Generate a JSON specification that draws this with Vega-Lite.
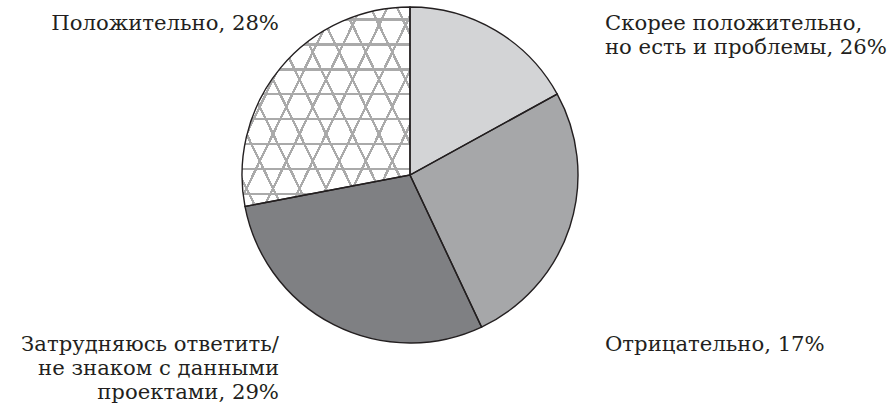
{
  "$schema": "https://vega.github.io/schema/vega-lite/v6.json",
  "width": 820,
  "height": 350,
  "padding": 0,
  "background": "white",
  "config": {"view": {"stroke": null}},
  "datasets": {
    "slices": [
      {"idx": 1, "category": "Отрицательно", "value": 17},
      {"idx": 2, "category": "Скорее положительно, но есть и проблемы", "value": 26},
      {"idx": 3, "category": "Затрудняюсь ответить/не знаком с данными проектами", "value": 29},
      {"idx": 4, "category": "Положительно", "value": 28}
    ],
    "labels": [
      {"label": "Положительно, 28%", "side": "left", "vpos": "top"},
      {"label": "Скорее положительно,\nно есть и проблемы, 26%", "side": "right", "vpos": "top"},
      {"label": "Затрудняюсь ответить/\nне знаком с данными\nпроектами, 29%", "side": "left", "vpos": "bottom"},
      {"label": "Отрицательно, 17%", "side": "right", "vpos": "bottom"}
    ]
  },
  "layer": [
    {
      "data": {"name": "slices"},
      "mark": {"type": "arc", "outerRadius": 168},
      "encoding": {
        "theta": {"field": "value", "type": "quantitative", "stack": true},
        "order": {"field": "idx", "type": "quantitative"},
        "color": {
          "field": "category", "type": "nominal", "legend": null,
          "scale": {
            "domain": ["Отрицательно", "Скорее положительно, но есть и проблемы", "Затрудняюсь ответить/не знаком с данными проектами", "Положительно"],
            "range": ["#d3d4d6", "#a6a7a9", "#7f8083", "#ffffff"]
          }
        }
      }
    },
    {
      "data": {"name": "slices"},
      "mark": {"type": "arc", "outerRadius": 168},
      "encoding": {
        "theta": {"field": "value", "type": "quantitative", "stack": true},
        "order": {"field": "idx", "type": "quantitative"},
        "fill": {
          "condition": {"test": "datum.idx === 4", "value": {
            "gradient": "linear", "x1": 0, "y1": 0, "x2": 0, "y2": 1,
            "stops": [
              {"offset": 0.0565, "color": "rgba(170,170,170,0)"}, {"offset": 0.0565, "color": "#aaaaaa"}, {"offset": 0.0685, "color": "#aaaaaa"}, {"offset": 0.0685, "color": "rgba(170,170,170,0)"},
              {"offset": 0.1815, "color": "rgba(170,170,170,0)"}, {"offset": 0.1815, "color": "#aaaaaa"}, {"offset": 0.1935, "color": "#aaaaaa"}, {"offset": 0.1935, "color": "rgba(170,170,170,0)"},
              {"offset": 0.3065, "color": "rgba(170,170,170,0)"}, {"offset": 0.3065, "color": "#aaaaaa"}, {"offset": 0.3185, "color": "#aaaaaa"}, {"offset": 0.3185, "color": "rgba(170,170,170,0)"},
              {"offset": 0.4315, "color": "rgba(170,170,170,0)"}, {"offset": 0.4315, "color": "#aaaaaa"}, {"offset": 0.4435, "color": "#aaaaaa"}, {"offset": 0.4435, "color": "rgba(170,170,170,0)"},
              {"offset": 0.5565, "color": "rgba(170,170,170,0)"}, {"offset": 0.5565, "color": "#aaaaaa"}, {"offset": 0.5685, "color": "#aaaaaa"}, {"offset": 0.5685, "color": "rgba(170,170,170,0)"},
              {"offset": 0.6815, "color": "rgba(170,170,170,0)"}, {"offset": 0.6815, "color": "#aaaaaa"}, {"offset": 0.6935, "color": "#aaaaaa"}, {"offset": 0.6935, "color": "rgba(170,170,170,0)"},
              {"offset": 0.8065, "color": "rgba(170,170,170,0)"}, {"offset": 0.8065, "color": "#aaaaaa"}, {"offset": 0.8185, "color": "#aaaaaa"}, {"offset": 0.8185, "color": "rgba(170,170,170,0)"},
              {"offset": 0.9315, "color": "rgba(170,170,170,0)"}, {"offset": 0.9315, "color": "#aaaaaa"}, {"offset": 0.9435, "color": "#aaaaaa"}, {"offset": 0.9435, "color": "rgba(170,170,170,0)"}
            ]}},
          "value": null
        }
      }
    },
    {
      "data": {"name": "slices"},
      "mark": {"type": "arc", "outerRadius": 168},
      "encoding": {
        "theta": {"field": "value", "type": "quantitative", "stack": true},
        "order": {"field": "idx", "type": "quantitative"},
        "fill": {
          "condition": {"test": "datum.idx === 4", "value": {
            "gradient": "linear", "x1": 1, "y1": 0, "x2": -0.183, "y2": 0.683,
            "stops": [
              {"offset": 0.045, "color": "rgba(170,170,170,0)"}, {"offset": 0.045, "color": "#aaaaaa"}, {"offset": 0.055, "color": "#aaaaaa"}, {"offset": 0.055, "color": "rgba(170,170,170,0)"},
              {"offset": 0.145, "color": "rgba(170,170,170,0)"}, {"offset": 0.145, "color": "#aaaaaa"}, {"offset": 0.155, "color": "#aaaaaa"}, {"offset": 0.155, "color": "rgba(170,170,170,0)"},
              {"offset": 0.245, "color": "rgba(170,170,170,0)"}, {"offset": 0.245, "color": "#aaaaaa"}, {"offset": 0.255, "color": "#aaaaaa"}, {"offset": 0.255, "color": "rgba(170,170,170,0)"},
              {"offset": 0.345, "color": "rgba(170,170,170,0)"}, {"offset": 0.345, "color": "#aaaaaa"}, {"offset": 0.355, "color": "#aaaaaa"}, {"offset": 0.355, "color": "rgba(170,170,170,0)"},
              {"offset": 0.445, "color": "rgba(170,170,170,0)"}, {"offset": 0.445, "color": "#aaaaaa"}, {"offset": 0.455, "color": "#aaaaaa"}, {"offset": 0.455, "color": "rgba(170,170,170,0)"},
              {"offset": 0.545, "color": "rgba(170,170,170,0)"}, {"offset": 0.545, "color": "#aaaaaa"}, {"offset": 0.555, "color": "#aaaaaa"}, {"offset": 0.555, "color": "rgba(170,170,170,0)"},
              {"offset": 0.645, "color": "rgba(170,170,170,0)"}, {"offset": 0.645, "color": "#aaaaaa"}, {"offset": 0.655, "color": "#aaaaaa"}, {"offset": 0.655, "color": "rgba(170,170,170,0)"},
              {"offset": 0.745, "color": "rgba(170,170,170,0)"}, {"offset": 0.745, "color": "#aaaaaa"}, {"offset": 0.755, "color": "#aaaaaa"}, {"offset": 0.755, "color": "rgba(170,170,170,0)"},
              {"offset": 0.845, "color": "rgba(170,170,170,0)"}, {"offset": 0.845, "color": "#aaaaaa"}, {"offset": 0.855, "color": "#aaaaaa"}, {"offset": 0.855, "color": "rgba(170,170,170,0)"},
              {"offset": 0.945, "color": "rgba(170,170,170,0)"}, {"offset": 0.945, "color": "#aaaaaa"}, {"offset": 0.955, "color": "#aaaaaa"}, {"offset": 0.955, "color": "rgba(170,170,170,0)"}
            ]}},
          "value": null
        }
      }
    },
    {
      "data": {"name": "slices"},
      "mark": {"type": "arc", "outerRadius": 168},
      "encoding": {
        "theta": {"field": "value", "type": "quantitative", "stack": true},
        "order": {"field": "idx", "type": "quantitative"},
        "fill": {
          "condition": {"test": "datum.idx === 4", "value": {
            "gradient": "linear", "x1": 0, "y1": 0, "x2": 1.183, "y2": 0.683,
            "stops": [
              {"offset": 0.045, "color": "rgba(170,170,170,0)"}, {"offset": 0.045, "color": "#aaaaaa"}, {"offset": 0.055, "color": "#aaaaaa"}, {"offset": 0.055, "color": "rgba(170,170,170,0)"},
              {"offset": 0.145, "color": "rgba(170,170,170,0)"}, {"offset": 0.145, "color": "#aaaaaa"}, {"offset": 0.155, "color": "#aaaaaa"}, {"offset": 0.155, "color": "rgba(170,170,170,0)"},
              {"offset": 0.245, "color": "rgba(170,170,170,0)"}, {"offset": 0.245, "color": "#aaaaaa"}, {"offset": 0.255, "color": "#aaaaaa"}, {"offset": 0.255, "color": "rgba(170,170,170,0)"},
              {"offset": 0.345, "color": "rgba(170,170,170,0)"}, {"offset": 0.345, "color": "#aaaaaa"}, {"offset": 0.355, "color": "#aaaaaa"}, {"offset": 0.355, "color": "rgba(170,170,170,0)"},
              {"offset": 0.445, "color": "rgba(170,170,170,0)"}, {"offset": 0.445, "color": "#aaaaaa"}, {"offset": 0.455, "color": "#aaaaaa"}, {"offset": 0.455, "color": "rgba(170,170,170,0)"},
              {"offset": 0.545, "color": "rgba(170,170,170,0)"}, {"offset": 0.545, "color": "#aaaaaa"}, {"offset": 0.555, "color": "#aaaaaa"}, {"offset": 0.555, "color": "rgba(170,170,170,0)"},
              {"offset": 0.645, "color": "rgba(170,170,170,0)"}, {"offset": 0.645, "color": "#aaaaaa"}, {"offset": 0.655, "color": "#aaaaaa"}, {"offset": 0.655, "color": "rgba(170,170,170,0)"},
              {"offset": 0.745, "color": "rgba(170,170,170,0)"}, {"offset": 0.745, "color": "#aaaaaa"}, {"offset": 0.755, "color": "#aaaaaa"}, {"offset": 0.755, "color": "rgba(170,170,170,0)"},
              {"offset": 0.845, "color": "rgba(170,170,170,0)"}, {"offset": 0.845, "color": "#aaaaaa"}, {"offset": 0.855, "color": "#aaaaaa"}, {"offset": 0.855, "color": "rgba(170,170,170,0)"},
              {"offset": 0.945, "color": "rgba(170,170,170,0)"}, {"offset": 0.945, "color": "#aaaaaa"}, {"offset": 0.955, "color": "#aaaaaa"}, {"offset": 0.955, "color": "rgba(170,170,170,0)"}
            ]}},
          "value": null
        }
      }
    },
    {
      "data": {"name": "slices"},
      "mark": {"type": "arc", "outerRadius": 168, "fillOpacity": 0, "stroke": "#231f20", "strokeWidth": 1.4},
      "encoding": {
        "theta": {"field": "value", "type": "quantitative", "stack": true},
        "order": {"field": "idx", "type": "quantitative"}
      }
    },
    {
      "data": {"name": "labels"},
      "transform": [{"filter": "datum.side === 'left'"}],
      "mark": {"type": "text", "align": "right", "baseline": "alphabetic", "font": "DejaVu Serif", "fontSize": 21.2, "lineHeight": 24, "lineBreak": "\n", "color": "#231f20"},
      "encoding": {
        "x": {"field": "side", "type": "nominal", "axis": null, "scale": {"type": "point", "domain": ["left", "right"], "range": [279, 605], "padding": 0}},
        "y": {"field": "vpos", "type": "nominal", "axis": null, "scale": {"type": "point", "domain": ["top", "bottom"], "range": [30, 351], "padding": 0}},
        "text": {"field": "label"}
      }
    },
    {
      "data": {"name": "labels"},
      "transform": [{"filter": "datum.side === 'right'"}],
      "mark": {"type": "text", "align": "left", "baseline": "alphabetic", "font": "DejaVu Serif", "fontSize": 21.2, "lineHeight": 24, "lineBreak": "\n", "color": "#231f20"},
      "encoding": {
        "x": {"field": "side", "type": "nominal", "axis": null, "scale": {"type": "point", "domain": ["left", "right"], "range": [279, 605], "padding": 0}},
        "y": {"field": "vpos", "type": "nominal", "axis": null, "scale": {"type": "point", "domain": ["top", "bottom"], "range": [30, 351], "padding": 0}},
        "text": {"field": "label"}
      }
    }
  ]
}
